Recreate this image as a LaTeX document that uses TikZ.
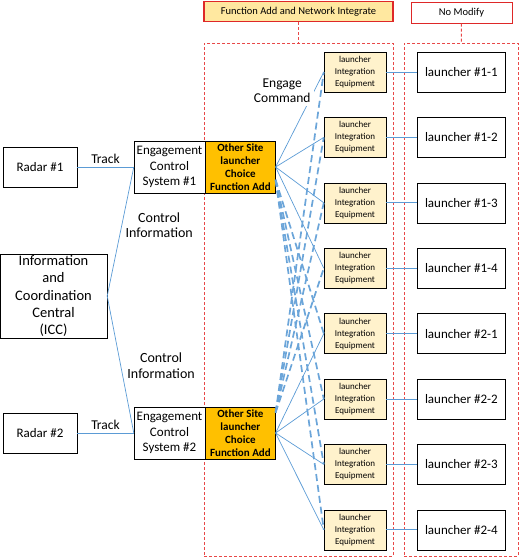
\documentclass[tikz,border=0pt]{standalone}
\usepackage{fontspec}
\setmainfont{Carlito}
\usepackage{tikz}
\usetikzlibrary{positioning}
\definecolor{link-blue}{RGB}{91,155,213}
\definecolor{zone-red}{RGB}{232,72,72}
\definecolor{hdr-red}{RGB}{222,40,40}
\definecolor{hdr-yellow}{RGB}{255,232,160}
\definecolor{lie-yellow}{RGB}{255,242,204}
\definecolor{os-orange}{RGB}{255,192,0}

\begin{document}
\begin{tikzpicture}[
    x=1pt, y=-1pt,
    node distance=25pt,
    box/.style={rectangle, draw=black, fill=white, minimum width=74pt, minimum height=40pt, inner sep=0pt, align=center, font=\fontsize{13}{15.5}\selectfont},
    ecs/.style={box, minimum width=71pt, minimum height=52pt},
    choice/.style={rectangle, draw=black, fill=os-orange, minimum width=70pt, minimum height=52pt, inner sep=0pt, align=center, font=\fontsize{11}{12.8}\selectfont\bfseries},
    lie/.style={rectangle, draw=black, fill=lie-yellow, minimum width=62pt, minimum height=40pt, inner sep=0pt, align=center, font=\fontsize{9}{12}\selectfont},
    launcher/.style={box, minimum width=88pt},
    zone/.style={rectangle, draw=zone-red, line width=1pt, dash pattern=on 3pt off 2pt, minimum height=513pt},
    header/.style={rectangle, draw=hdr-red, inner sep=0pt, font=\fontsize{10.5}{12}\selectfont},
    tie/.style={draw=zone-red, line width=1pt, dash pattern=on 3pt off 2pt},
    link/.style={draw=link-blue, line width=0.7pt},
    crosslink/.style={draw=link-blue!90, line width=1.7pt, dash pattern=on 7pt off 4pt},
    tag/.style={align=center, font=\fontsize{13.5}{15}\selectfont}
]
\useasboundingbox (0,0) rectangle (519,557);

% dashed areas and their headers
\node[zone, minimum width=189pt] (zone1) at (298.5,299.5) {};
\node[zone, minimum width=114pt] (zone2) at (461,299.5) {};
\node[header, fill=hdr-yellow, line width=1.6pt, minimum width=189pt, minimum height=20pt] (hdr1) at (298.5,11.5) {Function Add and Network Integrate};
\node[header, fill=white, line width=1pt, minimum width=101pt, minimum height=21pt] (hdr2) at (461.5,12.5) {No Modify};
\draw[tie] (hdr1) -- (zone1);
\draw[tie] (hdr2) -- (zone2);

% sensors, ICC and engagement control
\node[box] (radar1) at (40,167) {Radar \#1};
\node[box] (radar2) at (40,433) {Radar \#2};
\node[box, minimum width=107pt, minimum height=84pt, font=\fontsize{14.5}{17.2}\selectfont] (icc) at (53.5,296) {Information\\and\\Coordination\\Central\\(ICC)};
\node[ecs] (ecs1) at (169.5,167) {Engagement\\Control\\System \#1};
\node[choice, right=0pt of ecs1] (os1) {Other Site\\launcher\\Choice\\Function Add};
\node[ecs] (ecs2) at (169.5,433) {Engagement\\Control\\System \#2};
\node[choice, right=0pt of ecs2] (os2) {Other Site\\launcher\\Choice\\Function Add};

% launcher integration equipment
\node[lie] (lie11) at (355,72) {launcher\\Integration\\Equipment};
\node[lie, below=of lie11] (lie12) {launcher\\Integration\\Equipment};
\node[lie, below=of lie12] (lie13) {launcher\\Integration\\Equipment};
\node[lie, below=of lie13] (lie14) {launcher\\Integration\\Equipment};
\node[lie, below=of lie14] (lie21) {launcher\\Integration\\Equipment};
\node[lie, below=of lie21] (lie22) {launcher\\Integration\\Equipment};
\node[lie, below=of lie22] (lie23) {launcher\\Integration\\Equipment};
\node[lie, below=of lie23] (lie24) {launcher\\Integration\\Equipment};

% launchers
\node[launcher, right=31pt of lie11] (la11) {launcher \#1-1};
\node[launcher, right=31pt of lie12] (la12) {launcher \#1-2};
\node[launcher, right=31pt of lie13] (la13) {launcher \#1-3};
\node[launcher, right=31pt of lie14] (la14) {launcher \#1-4};
\node[launcher, right=31pt of lie21] (la21) {launcher \#2-1};
\node[launcher, right=31pt of lie22] (la22) {launcher \#2-2};
\node[launcher, right=31pt of lie23] (la23) {launcher \#2-3};
\node[launcher, right=31pt of lie24] (la24) {launcher \#2-4};

\draw[link] (radar1) -- node[tag, above] {Track} (ecs1);
\draw[link] (radar2) -- node[tag, above] {Track} (ecs2);
\draw[link] (icc.east) -- node[tag, right, pos=0.55, font=\fontsize{14}{15.5}\selectfont] {Control\\Information} (ecs1.west);
\draw[link] (icc.east) -- node[tag, right, pos=0.51, xshift=3pt, font=\fontsize{14}{15.5}\selectfont] {Control\\Information} (ecs2.west);

\draw[link] (os1.east) -- node[tag, pos=0.8, left, fill=white] {Engage\\Command} (lie11.west);
\draw[link] (os1.east) -- (lie12.west);
\draw[link] (os1.east) -- (lie13.west);
\draw[link] (os1.east) -- (lie14.west);
\draw[link] (os2.east) -- (lie21.west);
\draw[link] (os2.east) -- (lie22.west);
\draw[link] (os2.east) -- (lie23.west);
\draw[link] (os2.east) -- (lie24.west);

% other site choice
\draw[crosslink] (os1.-20) -- (lie21.west);
\draw[crosslink] (os1.-20) -- (lie22.west);
\draw[crosslink] (os1.-20) -- (lie23.west);
\draw[crosslink] (os1.-20) -- (lie24.west);
\draw[crosslink] (os2.30) -- (lie11.west);
\draw[crosslink] (os2.30) -- (lie12.west);
\draw[crosslink] (os2.30) -- (lie13.west);
\draw[crosslink] (os2.30) -- (lie14.west);

\draw[link] (lie11) -- (la11);
\draw[link] (lie12) -- (la12);
\draw[link] (lie13) -- (la13);
\draw[link] (lie14) -- (la14);
\draw[link] (lie21) -- (la21);
\draw[link] (lie22) -- (la22);
\draw[link] (lie23) -- (la23);
\draw[link] (lie24) -- (la24);

\end{tikzpicture}
\end{document}
